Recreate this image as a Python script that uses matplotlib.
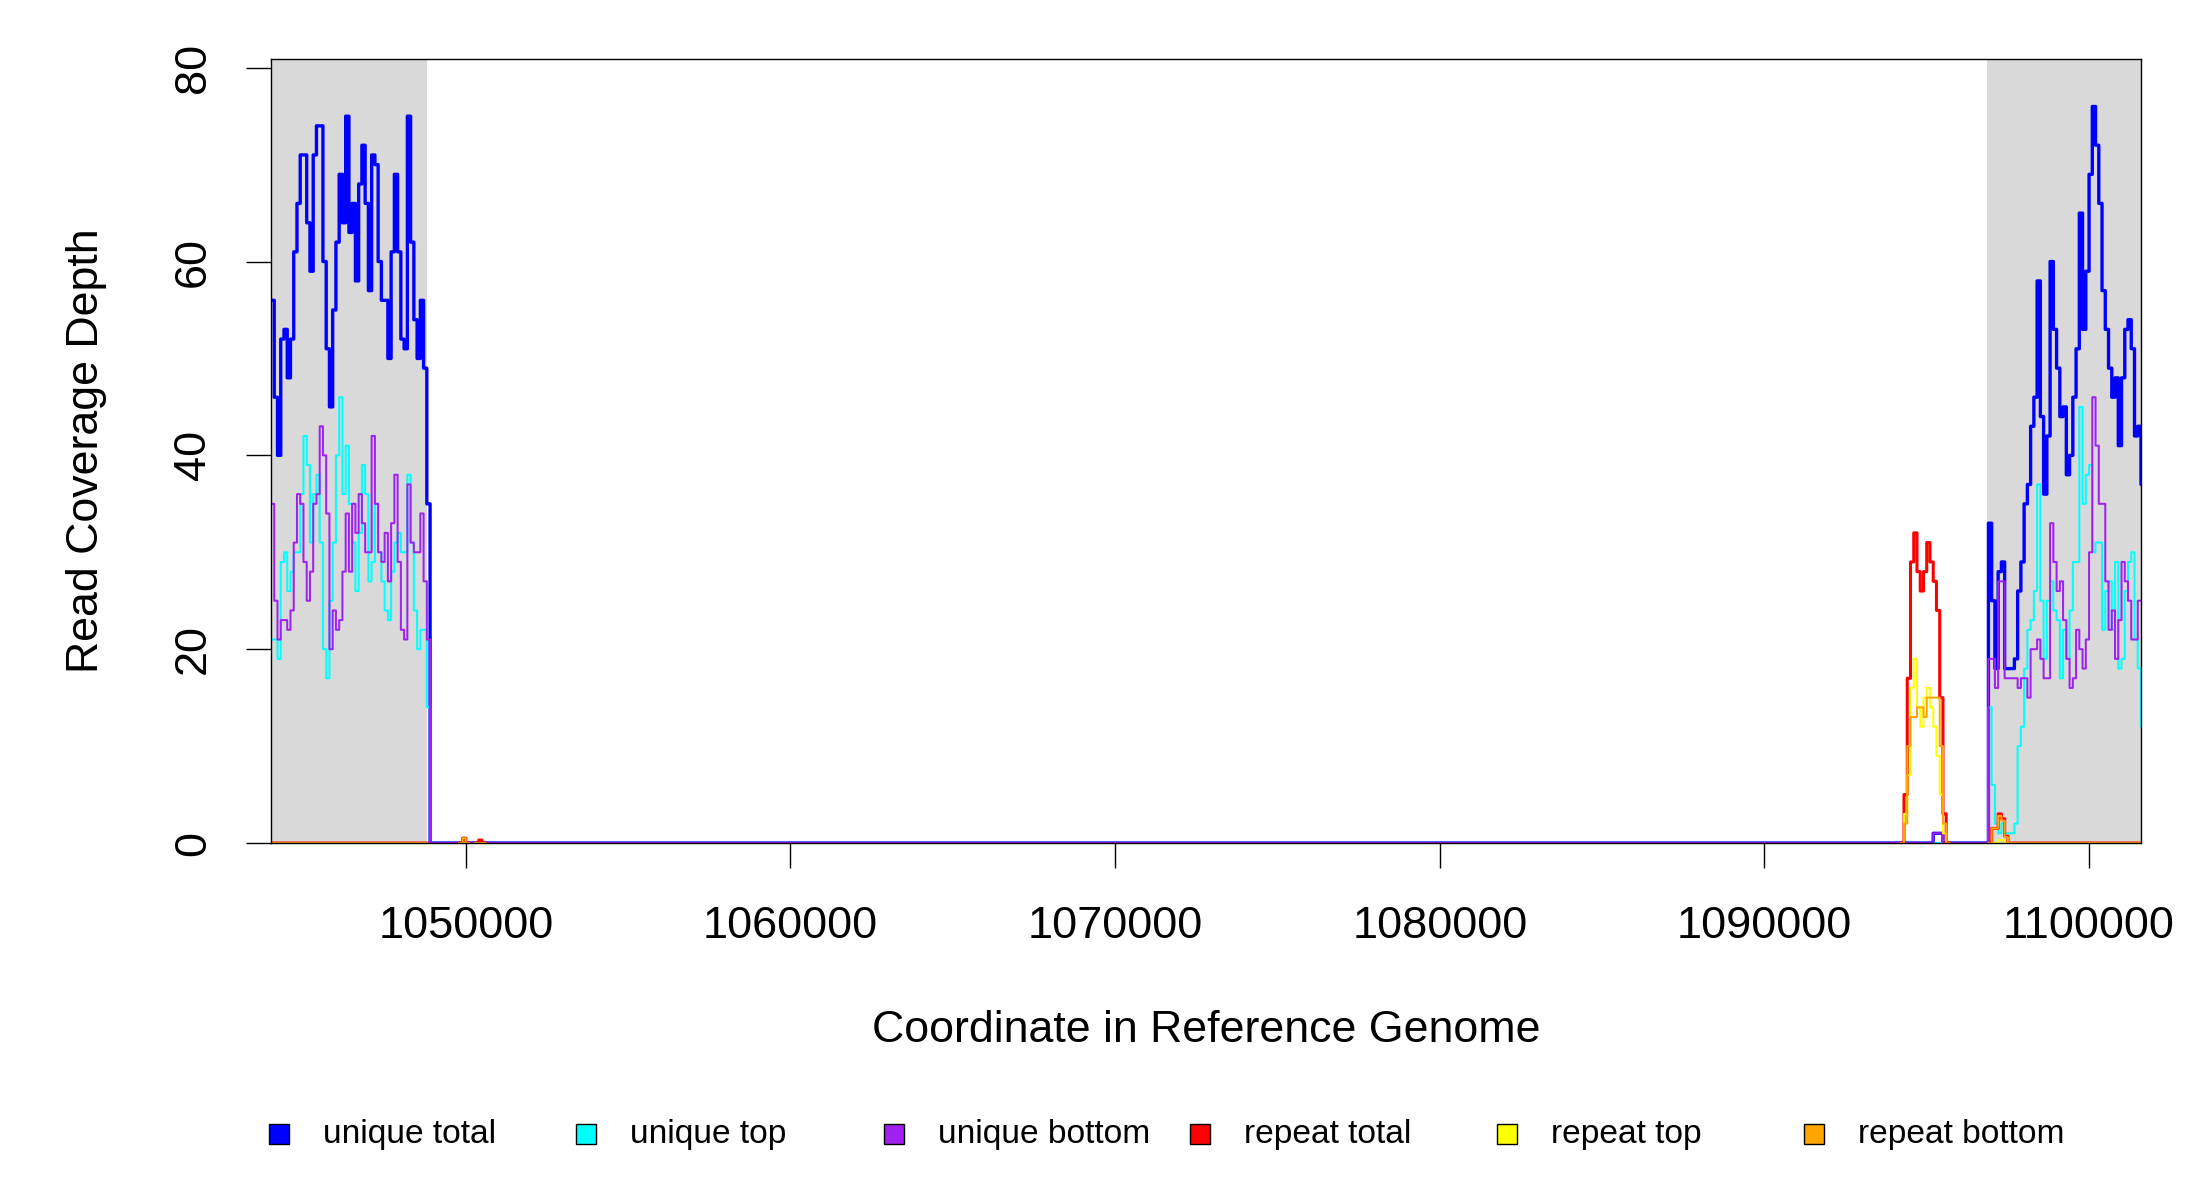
import matplotlib
matplotlib.use("Agg")
import matplotlib.pyplot as plt
import numpy as np
from matplotlib.patches import Rectangle

plt.rcParams['font.family'] = ['Liberation Sans', 'DejaVu Sans']

# ---------------- data (100 bp bins) ----------------
BIN = 100
GRID_START = 1044000
GRID_END = 1101700

series_names = ["unique total", "unique top", "unique bottom",
                "repeat total", "repeat top", "repeat bottom"]
series_colors = ["#0000FF", "#00FFFF", "#A020F0", "#FF0000", "#FFFF00", "#FFA500"]

gray_regions = [(1044000, 1048820), (1096850, 1101700)]

# left block (starts 1044000)
left_start = 1044000
left_unique_total = [56,46,40,52,53,48,52,61,66,71,71,64,59,71,74,74,60,51,45,55,
                     62,69,64,75,63,66,58,68,72,66,57,71,70,60,56,56,50,61,69,61,
                     52,51,75,62,54,50,56,49,35]
left_unique_top = [21,21,19,29,30,26,28,30,30,36,42,39,31,36,38,31,20,17,25,31,
                   40,46,36,41,35,31,26,32,39,36,27,29,35,30,27,24,23,28,31,32,
                   30,30,38,31,24,20,22,22,14]
left_unique_bottom = [35,25,21,23,23,22,24,31,36,35,29,25,28,35,36,43,40,34,20,24,
                      22,23,28,34,28,35,32,36,33,30,30,42,35,30,29,32,27,33,38,29,
                      22,21,37,31,30,30,34,27,21]

# right block (starts 1096900)
right_start = 1096900
right_unique_total = [33,25,18,28,29,18,18,18,19,26,29,35,37,43,46,58,44,36,42,60,
                      53,49,44,45,38,40,46,51,65,53,59,69,76,72,66,57,53,49,46,48,
                      41,48,53,54,51,42,43,37]
right_unique_top = [14,6,2,1,2,1,1,1,2,10,12,18,22,23,26,37,25,19,25,27,
                    24,23,17,22,19,24,29,29,45,35,38,39,30,31,31,22,26,27,22,29,
                    18,19,26,29,30,21,18,12]
right_unique_bottom = [19,19,16,27,27,17,17,17,17,16,17,17,15,20,20,21,19,17,17,33,
                       29,26,27,23,19,16,17,22,20,18,21,30,46,41,35,35,27,22,24,19,
                       23,29,27,25,21,21,25,25]

# small unique bump in the middle
bump_start = 1095200
bump_unique_total = [1, 1, 1]
bump_unique_bottom = [1, 1, 1]

# repeat peak
rpeak_start = 1094200
rpeak_total = [0, 5, 17, 29, 32, 28, 26, 28, 31, 29, 27, 24, 15, 3, 0]
rpeak_top = [0, 3, 7, 16, 19, 14, 12, 15, 16, 14, 12, 9, 5, 1, 0]
rpeak_bottom = [0, 2, 10, 13, 13, 14, 14, 13, 15, 15, 15, 15, 10, 2, 0]

# tiny repeat blips near 1050000
rblip_start = 1049800
rblip_total = [0, 0.5, 0, np.nan, np.nan, 0, 0.3, 0]
rblip_top = [0, 0, 0, np.nan, np.nan, 0, 0, 0]
rblip_bottom = [0, 0.5, 0, np.nan, np.nan, 0, 0, 0]

# small repeat bump in right block
rsmall_start = 1097000
rsmall_total = [1.5, 1.5, 3.0, 2.5, 0.7]
rsmall_top = [0, 0, 0.3, 0.3, 0]
rsmall_bottom = [1.5, 1.5, 2.8, 2.3, 0.6]

x_ticks = [1050000, 1060000, 1070000, 1080000, 1090000, 1100000]
y_ticks = [0, 20, 40, 60, 80]

# ---------------- build grids ----------------
n = (GRID_END - GRID_START) // BIN
edges = GRID_START + BIN * np.arange(n + 1)

def put(arr, start, vals):
    i = (start - GRID_START) // BIN
    v = np.asarray(vals, dtype=float)
    arr[i:i + len(v)] = v

unique = [np.zeros(n) for _ in range(3)]
for arr, l, r in zip(unique,
                     [left_unique_total, left_unique_top, left_unique_bottom],
                     [right_unique_total, right_unique_top, right_unique_bottom]):
    put(arr, left_start, l)
    put(arr, right_start, r)
put(unique[0], bump_start, bump_unique_total)
put(unique[2], bump_start, bump_unique_bottom)

repeat = [np.full(n, np.nan) for _ in range(3)]
for arr in repeat:
    put(arr, left_start, np.zeros(48))
    put(arr, right_start, np.zeros(n - (right_start - GRID_START) // BIN))
for arr, a, b, c in zip(repeat,
                        [rpeak_total, rpeak_top, rpeak_bottom],
                        [rblip_total, rblip_top, rblip_bottom],
                        [rsmall_total, rsmall_top, rsmall_bottom]):
    put(arr, rpeak_start, a)
    put(arr, rblip_start, b)
    put(arr, rsmall_start, c)

# ---------------- figure ----------------
W, H = 2200, 1200
fig = plt.figure(figsize=(W / 100, H / 100), dpi=100)
L, R, T, B = 271, 2141, 59, 843
ax = fig.add_axes([L / W, 1 - B / H, (R - L) / W, (B - T) / H])

for a, b in gray_regions:
    ax.axvspan(a, b, color="#D9D9D9", zorder=0, lw=0)

widths = [2.4, 1.45, 1.45, 2.2, 1.45, 1.45]
all_series = unique + repeat
for vals, col, lw in zip(all_series, series_colors, widths):
    ax.plot(edges, np.append(vals, vals[-1]), drawstyle="steps-post",
            color=col, lw=lw, zorder=2)

ax.set_xlim(1044000, 1101600)
ax.set_ylim(0, 80.9)
ax.set_xticks(x_ticks)
ax.set_xticklabels([str(t) for t in x_ticks])
ax.set_yticks(y_ticks)
ax.set_yticklabels([str(t) for t in y_ticks], rotation=90, va="center")
ax.tick_params(axis="both", length=18, width=1.0, labelsize=32.5, color="black")
ax.tick_params(axis="x", pad=27)
ax.tick_params(axis="y", pad=23)
for s in ax.spines.values():
    s.set_linewidth(1.0)
    s.set_color("black")

fig.text(1206 / W, 1 - 1031 / H, "Coordinate in Reference Genome",
         ha="center", va="center", fontsize=32.2)
fig.text(87 / W, 1 - 451 / H, "Read Coverage Depth", rotation=90,
         ha="center", va="center", fontsize=32.2)

# legend
sq_x = [279, 586, 894, 1200, 1507, 1814]
ly = 1134
sq = 20
for x0, name, col in zip(sq_x, series_names, series_colors):
    fig.patches.append(Rectangle(((x0 - sq / 2) / W, 1 - (ly + sq / 2) / H),
                                 sq / W, sq / H, transform=fig.transFigure,
                                 facecolor=col, edgecolor="black", lw=1.0))
    fig.text((x0 + 44) / W, 1 - ly / H, name, ha="left", va="center",
             fontsize=24.1)

fig.savefig("out.png", dpi=100)
